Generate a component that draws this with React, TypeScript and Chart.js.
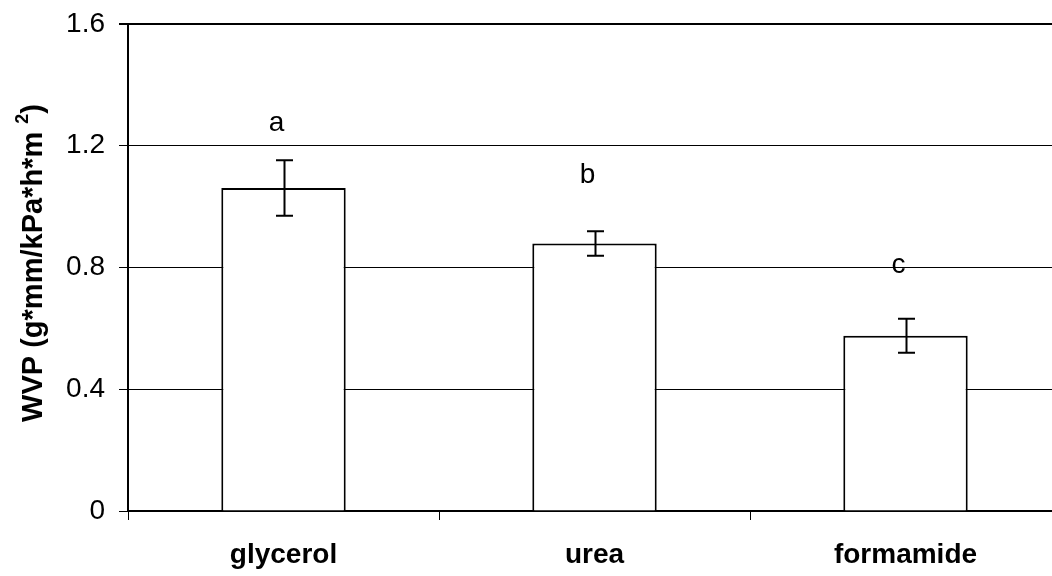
import React, { useEffect, useRef } from 'react';
import { Chart, registerables } from 'chart.js';

Chart.register(...registerables);

const categories = ['glycerol', 'urea', 'formamide'];
const wvpValues = [1.061, 0.879, 0.576];
const errValues = [0.091, 0.04, 0.056];
const groupLetters = ['a', 'b', 'c'];
const letterBaselines = [1.25, 1.078, 0.782];
const yTickValues = [0, 0.4, 0.8, 1.2, 1.6];

const FONT = '"Liberation Sans", Arial, Helvetica, sans-serif';

const annotatePlugin = {
  id: 'annotate',
  afterDatasetsDraw(chart: any) {
    const ctx = chart.ctx;
    const meta = chart.getDatasetMeta(0);
    const y = chart.scales.y;
    ctx.save();
    ctx.strokeStyle = '#000';
    ctx.lineWidth = 2;
    meta.data.forEach((bar: any, i: number) => {
      const x = Math.round(bar.x) + 0.5;
      const top = y.getPixelForValue(wvpValues[i] + errValues[i]);
      const bot = y.getPixelForValue(wvpValues[i] - errValues[i]);
      ctx.beginPath();
      ctx.moveTo(x, top);
      ctx.lineTo(x, bot);
      ctx.moveTo(x - 8.5, top);
      ctx.lineTo(x + 8.5, top);
      ctx.moveTo(x - 8.5, bot);
      ctx.lineTo(x + 8.5, bot);
      ctx.stroke();
      ctx.fillStyle = '#000';
      ctx.font = `28px ${FONT}`;
      ctx.textAlign = 'center';
      ctx.textBaseline = 'alphabetic';
      ctx.fillText(groupLetters[i], bar.x - 7, y.getPixelForValue(letterBaselines[i]));
    });
    ctx.restore();
  },
  afterDraw(chart: any) {
    const ctx = chart.ctx;
    ctx.save();
    ctx.translate(42, 263);
    ctx.rotate(-Math.PI / 2);
    ctx.fillStyle = '#000';
    ctx.textBaseline = 'alphabetic';
    ctx.textAlign = 'left';
    const mainFont = `bold 29px ${FONT}`;
    const supFont = `bold 18px ${FONT}`;
    const main = 'WVP (g*mm/kPa*h*m';
    ctx.font = mainFont;
    const wMain = ctx.measureText(main).width;
    const wSpace = ctx.measureText(' ').width;
    const wParen = ctx.measureText(')').width;
    ctx.font = supFont;
    const wSup = ctx.measureText('2').width;
    const total = wMain + wSpace + wSup + wParen;
    let x = -total / 2;
    ctx.font = mainFont;
    ctx.fillText(main, x, 0);
    x += wMain + wSpace;
    ctx.font = supFont;
    ctx.fillText('2', x, -14);
    x += wSup;
    ctx.font = mainFont;
    ctx.fillText(')', x, 0);
    ctx.restore();
  },
};

export default function App() {
  const ref = useRef<HTMLCanvasElement>(null);
  useEffect(() => {
    if (!ref.current) return;
    const chart = new Chart(ref.current, {
      type: 'bar',
      data: {
        labels: categories,
        datasets: [
          {
            data: wvpValues,
            backgroundColor: '#ffffff',
            borderColor: '#000000',
            borderWidth: 2,
            categoryPercentage: 0.4,
            barPercentage: 1,
          },
        ],
      },
      options: {
        animation: false,
        responsive: false,
        devicePixelRatio: 1,
        layout: { padding: { top: 24, right: 1, left: 0, bottom: 0 } },
        plugins: { legend: { display: false }, tooltip: { enabled: false } },
        scales: {
          x: {
            z: 1,
            grid: {
              display: true,
              drawOnChartArea: false,
              drawTicks: true,
              tickLength: 9,
              color: '#000',
              lineWidth: 1,
              offset: true,
            },
            border: { display: true, color: '#000', width: 2 },
            ticks: {
              color: '#000',
              font: { family: FONT, size: 28, weight: 'bold' },
              padding: 18,
              maxRotation: 0,
            },
            afterFit(scale: any) {
              scale.height = 65;
              scale.paddingLeft = 0;
              scale.paddingRight = 0;
            },
          },
          y: {
            min: 0,
            max: 1.6,
            afterBuildTicks(scale: any) {
              scale.ticks = yTickValues.map((v) => ({ value: v }));
            },
            grid: {
              color: '#000',
              lineWidth: (c: any) => (c.tick && c.tick.value === 1.6 ? 2 : 1),
              tickLength: 9,
            },
            border: { display: true, color: '#000', width: 2 },
            ticks: {
              color: '#000',
              font: { family: FONT, size: 28 },
              padding: 14,
              callback: (v: any) => (Number(v) === 0 ? '0' : Number(v).toFixed(1)),
            },
            afterFit(scale: any) {
              scale.width = 128;
              scale.paddingTop = 0;
              scale.paddingBottom = 0;
            },
          },
        },
      },
      plugins: [annotatePlugin],
    });
    return () => chart.destroy();
  }, []);
  return (
    <div
      style={{
        position: 'fixed',
        left: 0,
        top: 0,
        width: 1052,
        height: 576,
        overflow: 'hidden',
        background: '#fff',
      }}
    >
      <canvas ref={ref} width={1062} height={576} style={{ display: 'block' }} />
    </div>
  );
}
